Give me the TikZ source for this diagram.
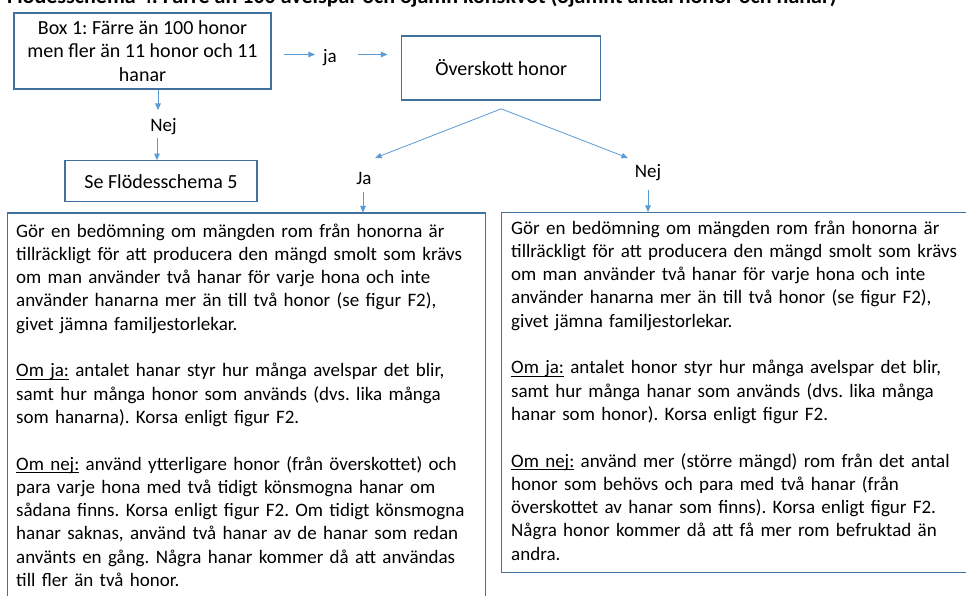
\documentclass[tikz,border=0pt]{standalone}
\usepackage{fontspec}
\setmainfont{Carlito}
\usetikzlibrary{arrows.meta}
\definecolor{boxline}{HTML}{41719C}
\definecolor{arrowblue}{HTML}{5B9BD5}
\newcommand\bodyfont{\fontsize{19}{23.3}\selectfont}
\newcommand\boxfont{\fontsize{20}{23.3}\selectfont}
\newcommand\titlefont{\fontsize{22}{26}\selectfont\bfseries}
% underline at a fixed depth, crossing descenders
\newcommand\lead[1]{\leavevmode\setbox0\hbox{#1}\rlap{\rule[-3pt]{\wd0}{1.1pt}}#1}
\frenchspacing

\begin{document}
\begin{tikzpicture}[x=1pt,y=-1pt,
  box/.style={draw=boxline, line width=1.1pt, align=center, inner sep=0pt, font=\boxfont},
  arr/.style={draw=arrowblue, line width=0.8pt, -{Triangle[length=6.5pt,width=5.5pt]}},
  lbl/.style={inner sep=0pt, font=\bodyfont},
  bodytext/.style={inner sep=0pt, font=\bodyfont, align=left, text width=#1, anchor=base west}
]
\useasboundingbox (0,0) rectangle (966,596);
\clip (0,0) rectangle (966,596);
\fill[white] (0,0) rectangle (966,596);

% heading, partly above the top edge
\node[inner sep=0pt, anchor=base west, font=\titlefont] (title) at (7,3.5)
  {Flödesschema 4: Färre än 100 avelspar och ojämn könskvot (ojämnt antal honor och hanar)};

% upper boxes
\node[box, minimum width=257, minimum height=76] (box1) at (142.5,51)
  {Box 1: Färre än 100 honor\\men fler än 11 honor och 11\\hanar};
\node[box, minimum width=199, minimum height=64] (over) at (501.2,68)
  {Överskott honor};
\node[box, minimum width=192, minimum height=41] (se) at (161,181.2)
  {Se Flödesschema 5};

% labels
\node[lbl] (jaL) at (330,57.5) {ja};
\node[lbl] (nejA) at (163.5,127) {Nej};
\node[lbl] (jaB) at (364,178) {Ja};
\node[lbl] (nejB) at (648,173) {Nej};

% large text boxes
\node[box, minimum width=477.7, minimum height=420, anchor=north west] (lbox) at (7.3,212.5) {};
\node[box, minimum width=480, minimum height=359.7, anchor=north west] (rbox) at (500.7,212) {};

\node[bodytext=470] (ltext) at ([xshift=8.7,yshift=-24.5]lbox.north west)
  {Gör en bedömning om mängden rom från honorna är\\
   tillräckligt för att producera den mängd smolt som krävs\\
   om man använder två hanar för varje hona och inte\\
   använder hanarna mer än till två honor (se figur F2),\\
   givet jämna familjestorlekar.\\[23.3pt]
   \lead{Om ja:} antalet hanar styr hur många avelspar det blir,\\
   samt hur många honor som används (dvs. lika många\\
   som hanarna). Korsa enligt figur F2.\\[23.3pt]
   \lead{Om nej:} använd ytterligare honor (från överskottet) och\\
   para varje hona med två tidigt könsmogna hanar om\\
   sådana finns. Korsa enligt figur F2. Om tidigt könsmogna\\
   hanar saknas, använd två hanar av de hanar som redan\\
   använts en gång. Några hanar kommer då att användas\\
   till fler än två honor.};

\node[bodytext=450] (rtext) at ([xshift=10.3,yshift=-22]rbox.north west)
  {Gör en bedömning om mängden rom från honorna är\\
   tillräckligt för att producera den mängd smolt som krävs\\
   om man använder två hanar för varje hona och inte\\
   använder hanarna mer än till två honor (se figur F2),\\
   givet jämna familjestorlekar.\\[23.3pt]
   \lead{Om ja:} antalet honor styr hur många avelspar det blir,\\
   samt hur många hanar som används (dvs. lika många\\
   hanar som honor). Korsa enligt figur F2.\\[23.3pt]
   \lead{Om nej:} använd mer (större mängd) rom från det antal\\
   honor som behövs och para med två hanar (från\\
   överskottet av hanar som finns). Korsa enligt figur F2.\\
   Några honor kommer då att få mer rom befruktad än\\
   andra.};

% connectors (canvas shifts: negative yshift moves down)
\draw[arr] ([xshift=12,yshift=-3.5]box1.east) -- ([xshift=-8,yshift=3]jaL.west);
\draw[arr] ([xshift=21,yshift=3]jaL.east) -- ([xshift=-13.7,yshift=13.5]over.west);

\draw[arr] ([xshift=15.5]box1.south) -- ([xshift=-5.5,yshift=17]nejA.center);
\draw[arr] ([xshift=-6.5,yshift=-11]nejA.center) -- ([xshift=-4]se.north);

\draw[arr] ([yshift=-8.3]over.south) -- ([xshift=11,yshift=20]jaB.center);
\draw[arr] ([yshift=-8.3]over.south) -- ([xshift=-20,yshift=15]nejB.center);

\draw[arr] ([xshift=-1,yshift=-14]jaB.center) -- ([xshift=-1]jaB.center |- lbox.north);
\draw[arr] ([yshift=-17]nejB.center) -- (nejB.center |- rbox.north);
\end{tikzpicture}
\end{document}
